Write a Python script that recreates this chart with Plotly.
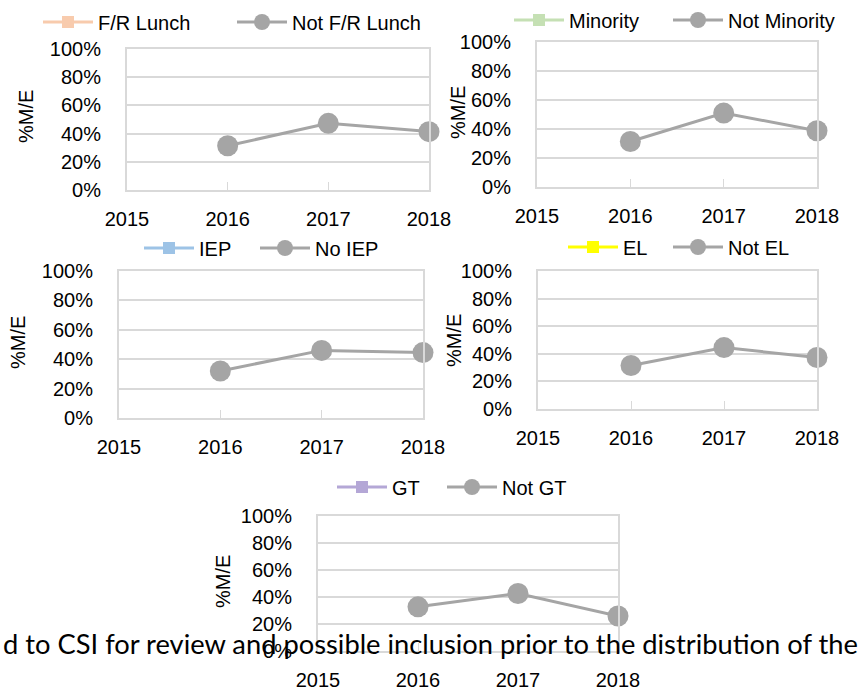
import plotly.graph_objects as go

W, H = 862, 697

# data
years = [2015, 2016, 2017, 2018]
year_labels = ["2015", "2016", "2017", "2018"]
pct_ticks = [0, 20, 40, 60, 80, 100]
pct_labels = ["0%", "20%", "40%", "60%", "80%", "100%"]

group_names = ["F/R Lunch", "Minority", "IEP", "EL", "GT"]
other_names = ["Not F/R Lunch", "Not Minority", "No IEP", "Not EL", "Not GT"]
group_colors = ["#F8CBAD", "#C5E0B4", "#9DC3E6", "#FFFF00", "#B4A7D6"]

fr_lunch = [None, None, None, None]
minority = [None, None, None, None]
iep = [None, None, None, None]
el = [None, None, None, None]
gt = [None, None, None, None]

not_fr_lunch = [None, 31.4, 47.3, 41.4]
not_minority = [None, 31.4, 51.0, 38.8]
no_iep = [None, 32.0, 46.0, 44.5]
not_el = [None, 31.5, 44.5, 37.3]
not_gt = [None, 32.7, 42.6, 25.9]

group_vals = [fr_lunch, minority, iep, el, gt]
other_vals = [not_fr_lunch, not_minority, no_iep, not_el, not_gt]

FONT = "Liberation Sans, Arial, sans-serif"
GRID = "#D9D9D9"
GRAY = "#A5A5A5"

# plot boxes in pixels: left, right, top, bottom
boxes = [(127, 429, 49, 190), (537, 817, 42, 187), (119, 423, 271, 418),
         (538, 817, 271, 409), (318, 618, 516, 651)]
# y-title centres
ytitles = [(26, 117), (458, 113), (18, 343), (454, 340), (223, 582)]
# legend text starts (group item, other item) and centre y
legend_pos = [((99, 293), 22), ((570, 729), 20), ((200, 316), 248),
              ((624, 729), 247), ((393, 503), 487)]

fig = go.Figure()
layout = dict(width=W, height=H, margin=dict(l=0, r=0, t=0, b=0, autoexpand=False),
              paper_bgcolor="white", plot_bgcolor="white", showlegend=True,
              font=dict(family=FONT, size=20, color="black"),
              annotations=[])


def legend_box(text_x, y):
    # text sits ~61px right of the legend origin with itemwidth 50
    return dict(orientation="h", x=(text_x - 61) / W, y=1 - y / H,
                xref="container", yref="container", visible=True,
                xanchor="left", yanchor="middle", bgcolor="rgba(0,0,0,0)",
                font=dict(family=FONT, size=20, color="black"), itemwidth=50)


for i in range(5):
    n = i + 1
    sfx = "" if n == 1 else str(n)
    leg_a = "legend" if i == 0 else "legend" + str(2 * i + 1)
    leg_b = "legend" + str(2 * i + 2)
    fig.add_trace(go.Scatter(x=years, y=group_vals[i], name=group_names[i],
                             mode="lines+markers", xaxis="x" + sfx, yaxis="y" + sfx,
                             line=dict(color=group_colors[i], width=3),
                             marker=dict(symbol="square", size=12, color=group_colors[i]),
                             legend=leg_a, showlegend=True, cliponaxis=False))
    fig.add_trace(go.Scatter(x=years, y=other_vals[i], name=other_names[i],
                             mode="lines+markers", xaxis="x" + sfx, yaxis="y" + sfx,
                             line=dict(color=GRAY, width=3),
                             marker=dict(symbol="circle", size=21, color=GRAY),
                             legend=leg_b, showlegend=True, cliponaxis=False))

    l, r, t, b = boxes[i]
    layout["xaxis" + sfx] = dict(domain=[l / W, r / W], anchor="y" + sfx, automargin=False,
                                 range=[2015, 2018], tickvals=years, ticktext=year_labels,
                                 ticks="inside", ticklen=8, tickcolor=GRID, tickwidth=1,
                                 showline=True, linecolor=GRID, linewidth=2, mirror=True,
                                 showgrid=False, zeroline=False, ticklabelstandoff=10)
    layout["yaxis" + sfx] = dict(domain=[1 - b / H, 1 - t / H], anchor="x" + sfx, automargin=False,
                                 range=[0, 100], tickvals=pct_ticks, ticktext=pct_labels,
                                 showgrid=True, gridcolor=GRID, gridwidth=2,
                                 showline=True, linecolor=GRID, linewidth=2, mirror=True,
                                 zeroline=False, ticks="", ticklabelstandoff=20)
    (xa, xb), ly = legend_pos[i]
    layout[leg_a] = legend_box(xa, ly)
    layout[leg_b] = legend_box(xb, ly)

    tx, ty = ytitles[i]
    layout["annotations"].append(dict(text="%M/E", x=tx / W, y=1 - ty / H,
                                      xref="paper", yref="paper", showarrow=False,
                                      xanchor="center", yanchor="middle",
                                      textangle=-90, font=dict(family=FONT, size=20)))

layout["annotations"].append(dict(
    text="d to CSI for review and possible inclusion prior to the distribution of the",
    x=1 / W, y=1 - 643 / H, xref="paper", yref="paper", xanchor="left", yanchor="middle",
    showarrow=False, font=dict(family="Lato, Open Sans, sans-serif", size=27.3, color="black")))

fig.update_layout(**layout)
fig.write_html("out.html", config={"displayModeBar": False},
               post_script="document.body.style.margin='0';")
